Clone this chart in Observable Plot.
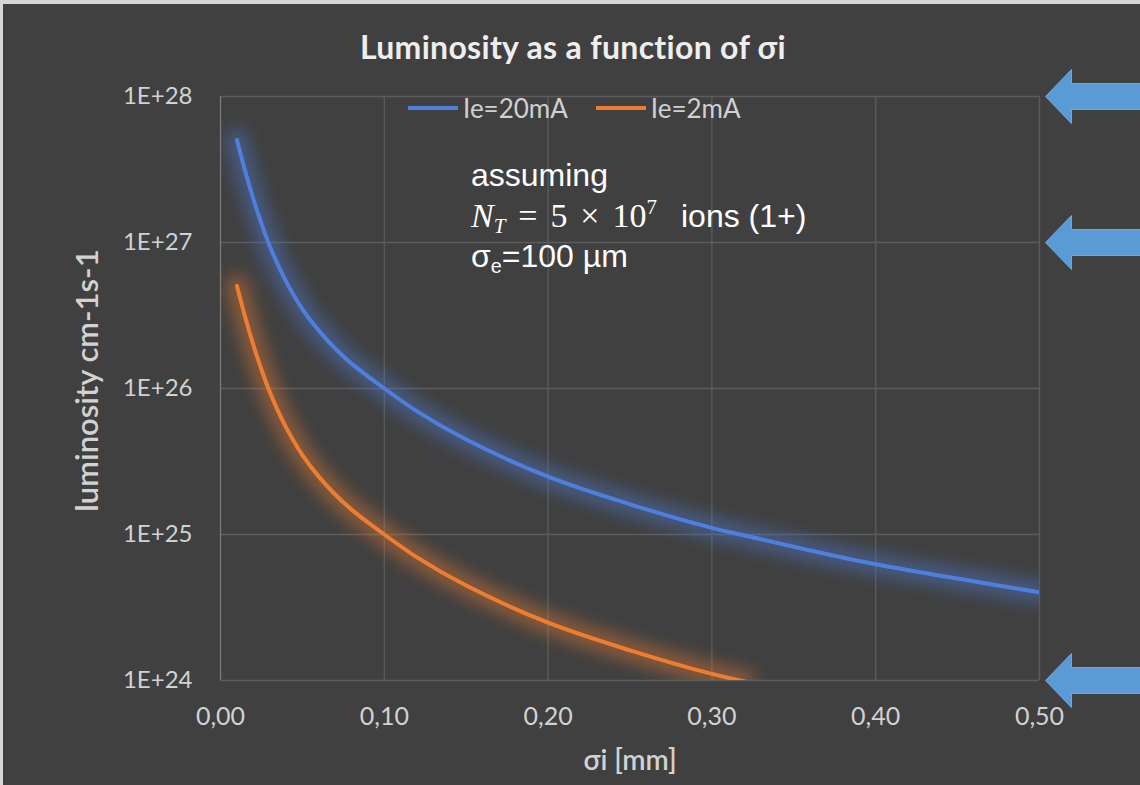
<!DOCTYPE html>
<html>
<head>
<meta charset="utf-8">
<script src="https://cdn.jsdelivr.net/npm/d3@7"></script>
<script src="https://cdn.jsdelivr.net/npm/@observablehq/plot@0.6"></script>
<style>
  html, body { margin: 0; padding: 0; background: #404040; }
  body { width: 1140px; height: 785px; overflow: hidden; }
  #figure { position: relative; width: 1140px; height: 785px; background: #404040; font-family: Lato, "Open Sans", sans-serif; }
  #edge-top { position: absolute; left: 0; top: 0; width: 1140px; height: 4px; background: #d6d6d6; }
  #edge-left { position: absolute; left: 0; top: 0; width: 3px; height: 785px; background: #d6d6d6; }
  #title { height: 75px; line-height: 94px; text-align: center; color: #eeeeee; font-weight: bold; font-size: 32px; letter-spacing: 0.3px; padding-left: 6px; box-sizing: border-box; }
  #chart { position: absolute; left: 0; top: 75px; }
  #legend { position: absolute; top: 92px; left: 408px; display: flex; align-items: center; color: #d0d0d0; font-size: 26px; }
  #legend .sw { display: inline-block; width: 50px; height: 4px; margin-right: 5px; }
  #legend .item { display: flex; align-items: center; margin-right: 28px; }
  #note { position: absolute; left: 471px; top: 155px; color: #ffffff; font-family: "Liberation Sans", Arial, sans-serif; font-size: 32px; line-height: 40.5px; white-space: nowrap; }
  #note .math { font-family: "Liberation Serif", "DejaVu Serif", serif; font-size: 34px; }
  #note .op { margin: 0 0.38em; }
  #note .unit { margin-left: 0.75em; }
  #note sub { font-size: 0.62em; vertical-align: -0.28em; line-height: 0; }
  #note sup { font-size: 0.62em; vertical-align: 0.6em; line-height: 0; }
</style>
</head>
<body>
<div id="figure">
  <div id="title">Luminosity as a function of σi</div>
  <div id="chart"></div>
  <div id="legend"></div>
  <div id="note">
    <div>assuming</div>
    <div><span class="math"><i>N</i><sub><i>T</i></sub><span class="op">=</span>5<span class="op">×</span>10<sup>7</sup></span><span class="unit">ions (1+)</span></div>
    <div>σ<sub>e</sub>=100 µm</div>
  </div>
  <div id="edge-top"></div>
  <div id="edge-left"></div>
</div>
<script>
// Ion beam size σi (mm) and the resulting luminosity for two electron currents
const sigmaI = [0.01, 0.015, 0.02, 0.025, 0.03, 0.035, 0.04, 0.05, 0.06, 0.07, 0.08, 0.09, 0.10,
                0.12, 0.15, 0.20, 0.25, 0.30, 0.32, 0.35, 0.40, 0.45, 0.50];
const lumi20mA = [5.05e27, 3.1e27, 2.0e27, 1.35e27, 9.5e26, 7.06e26, 5.42e26, 3.5e26, 2.49e26, 1.88e26, 1.48e26, 1.21e26, 1.0e26,
                  6.97e25, 4.47e25, 2.49e25, 1.61e25, 1.11e25, 9.85e24, 8.24e24, 6.25e24, 4.99e24, 4.02e24];
const lumi2mA = [5.05e26, 3.1e26, 2.0e26, 1.35e26, 9.5e25, 7.06e25, 5.42e25, 3.5e25, 2.49e25, 1.88e25, 1.48e25, 1.21e25, 1.0e25,
                 6.97e24, 4.47e24, 2.49e24, 1.61e24, 1.11e24, 9.85e23, null, null, null, null];

const seriesNames = ["Ie=20mA", "Ie=2mA"];
const seriesColors = ["#4f7fdc", "#ee7d31"];

const xTicks = [0, 0.1, 0.2, 0.3, 0.4, 0.5];
const yTicks = [1e24, 1e25, 1e26, 1e27, 1e28];
const yTickLabels = ["1E+24", "1E+25", "1E+26", "1E+27", "1E+28"];

// Levels marked with arrows on the right-hand side
const arrowLevels = [1e28, 1e27, 1e24];

const xTitle = "σi [mm]";
const yTitle = "luminosity cm-1s-1";

const rows = [];
[lumi20mA, lumi2mA].forEach((values, k) => {
  values.forEach((v, i) => rows.push({sigma: sigmaI[i], lumi: v, series: seriesNames[k]}));
});

// Block arrow pointing left, tip at the anchor point
const blockArrow = {
  draw(ctx) {
    ctx.moveTo(0, 0);
    ctx.lineTo(26, -27);
    ctx.lineTo(26, -13);
    ctx.lineTo(110, -13);
    ctx.lineTo(110, 13);
    ctx.lineTo(26, 13);
    ctx.lineTo(26, 27);
    ctx.closePath();
  }
};

const gridColor = "#5c5c5c";
const textColor = "#d2d2d2";

const chart = Plot.plot({
  width: 1140,
  height: 710,
  marginTop: 21,
  marginBottom: 105,
  marginLeft: 220,
  marginRight: 101,
  style: {background: "transparent", color: textColor, fontFamily: "Lato, 'Open Sans', sans-serif", overflow: "visible"},
  x: {domain: [0, 0.5]},
  y: {type: "log", domain: [1e24, 1e28]},
  color: {domain: seriesNames, range: seriesColors},
  marks: [
    Plot.ruleX(xTicks, {stroke: gridColor, strokeWidth: 1.3}),
    Plot.ruleY(yTicks, {stroke: gridColor, strokeWidth: 1.3}),
    Plot.ruleX([0], {stroke: "#767676", strokeWidth: 1.3}),
    Plot.axisX({ticks: xTicks, tickSize: 0, tickPadding: 27, fontSize: 25, fill: textColor,
      tickFormat: d => d.toFixed(2).replace(".", ","), label: null}),
    Plot.axisY({ticks: yTicks, tickSize: 0, tickPadding: 28, fontSize: 24, fill: textColor,
      tickFormat: d => yTickLabels[yTicks.indexOf(d)], label: null}),
    Plot.text([xTitle], {frameAnchor: "bottom", dy: 89, text: d => d, fontSize: 28, fill: textColor, fontWeight: 600}),
    Plot.text([yTitle], {frameAnchor: "left", dx: -132, dy: -8, rotate: -90, textAnchor: "middle", text: d => d,
      fontSize: 31, fill: textColor, fontWeight: 600}),
    // soft halo beneath each curve (first line mark)
    Plot.line(rows, {x: "sigma", y: "lumi", stroke: "series", z: "series", strokeWidth: 22, strokeOpacity: 0.42,
      curve: "catmull-rom", clip: true}),
    Plot.line(rows, {x: "sigma", y: "lumi", stroke: "series", z: "series", strokeWidth: 4,
      curve: "catmull-rom", clip: true}),
    Plot.dot(arrowLevels, {x: () => 0.5, y: d => d, symbol: blockArrow, r: 10, dx: 6,
      fill: "#5b9bd5", stroke: "#6ea7dc", strokeWidth: 1})
  ]
});

// Blur the halo lines
const svg = d3.select(chart);
const filter = svg.insert("defs", ":first-child").append("filter")
  .attr("id", "curve-glow").attr("filterUnits", "userSpaceOnUse")
  .attr("x", 0).attr("y", 0).attr("width", 1140).attr("height", 710);
filter.append("feGaussianBlur").attr("stdDeviation", 8);
svg.select('g[aria-label="line"]').attr("filter", "url(#curve-glow)");

document.getElementById("chart").appendChild(chart);

// Legend
const legend = d3.select("#legend");
seriesNames.forEach((name, i) => {
  const item = legend.append("div").attr("class", "item");
  item.append("span").attr("class", "sw").style("background", seriesColors[i]);
  item.append("span").text(name);
});
</script>
</body>
</html>
